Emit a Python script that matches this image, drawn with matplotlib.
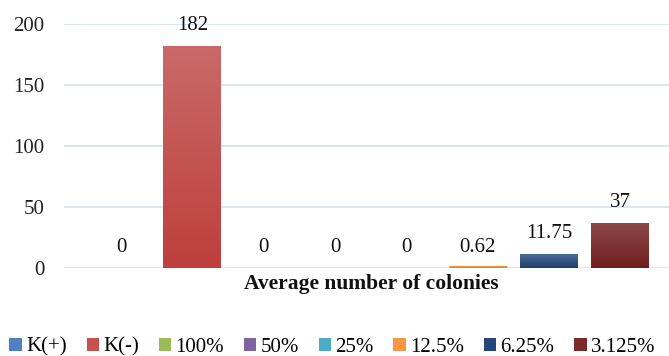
import numpy as np
import matplotlib
matplotlib.use("Agg")
import matplotlib.pyplot as plt
from matplotlib.colors import LinearSegmentedColormap
from matplotlib.patches import Patch

plt.rcParams['font.family'] = ['Liberation Serif', 'DejaVu Serif']

series = ["K(+)", "K(-)", "100%", "50%", "25%", "12.5%", "6.25%", "3.125%"]
values = [0, 182, 0, 0, 0, 0.62, 11.75, 37]
value_labels = ["0", "182", "0", "0", "0", "0.62", "11.75", "37"]
category = "Average number of colonies"
yticks = [0, 50, 100, 150, 200]

# (top, bottom) shades for a soft vertical gradient on each bar
shades = [
    ("#6B93CF", "#4472C4"),
    ("#C96A68", "#BE3F3C"),
    ("#B0CC7A", "#93B552"),
    ("#9580B5", "#7A5C9D"),
    ("#6DC0D6", "#43A8C2"),
    ("#F8A560", "#F08A2E"),
    ("#4D6F98", "#1F3F6C"),
    ("#8C4A4A", "#701E1D"),
]
legend_colors = ["#4F7FC4", "#C84F4C", "#9BBB59", "#8064A2", "#4BACC6", "#F79646", "#25467A", "#7A2A28"]

fig = plt.figure(figsize=(6.69, 3.56), dpi=100)
ax = fig.add_axes([64 / 669, 0.247, 605 / 669, 0.6856])

n = len(series)
bw = 0.813
for i, (name, v) in enumerate(zip(series, values)):
    cx = i
    bars = ax.bar(cx, v, width=bw, color=shades[i][1], zorder=3, linewidth=0)
    if v > 0:
        cmap = LinearSegmentedColormap.from_list(name, [shades[i][1], shades[i][0]])
        grad = np.linspace(0, 1, 256).reshape(-1, 1)
        im = ax.imshow(grad, cmap=cmap, aspect='auto', origin='lower',
                       extent=[cx - bw / 2, cx + bw / 2, 0, v], zorder=3.5)
        im.set_clip_path(bars[0])
    if name == "12.5%":
        ax.plot([cx - bw / 2, cx + bw / 2], [v, v], color=shades[i][1], lw=2.2,
                solid_capstyle='butt', zorder=4)
    ax.annotate(value_labels[i], (cx, v), xytext=(0, 14.5), textcoords='offset points',
                ha='center', va='center', fontsize=15, color='#111111', zorder=5)

ax.set_aspect('auto')
ax.set_xlim(-0.8, 7.685)
ax.set_ylim(0, 200)
ax.set_yticks(yticks)
ax.set_yticklabels([str(t) for t in yticks], fontsize=15, color='#222222')
ax.set_xticks([])
ax.tick_params(axis='y', length=0, pad=14)
ax.grid(axis='y', color='#D6E0EE', linewidth=1.2, zorder=0)
for s in ax.spines.values():
    s.set_visible(False)
ax.set_xlabel(category, fontsize=15.5, fontweight='bold', labelpad=5, color='#111111')
ax.xaxis.set_label_coords(0.508, -0.025, transform=ax.transAxes)
ax.xaxis.label.set_va('top')

handles = [Patch(facecolor=c, edgecolor='none') for c in legend_colors]
fig.legend(handles, series, loc='center', bbox_to_anchor=(0.497, 0.025), ncol=n,
           frameon=False, fontsize=15, handlelength=0.6, handleheight=0.6,
           handletextpad=0.2, columnspacing=0.95, borderaxespad=0)

fig.savefig("out.png", dpi=100)
